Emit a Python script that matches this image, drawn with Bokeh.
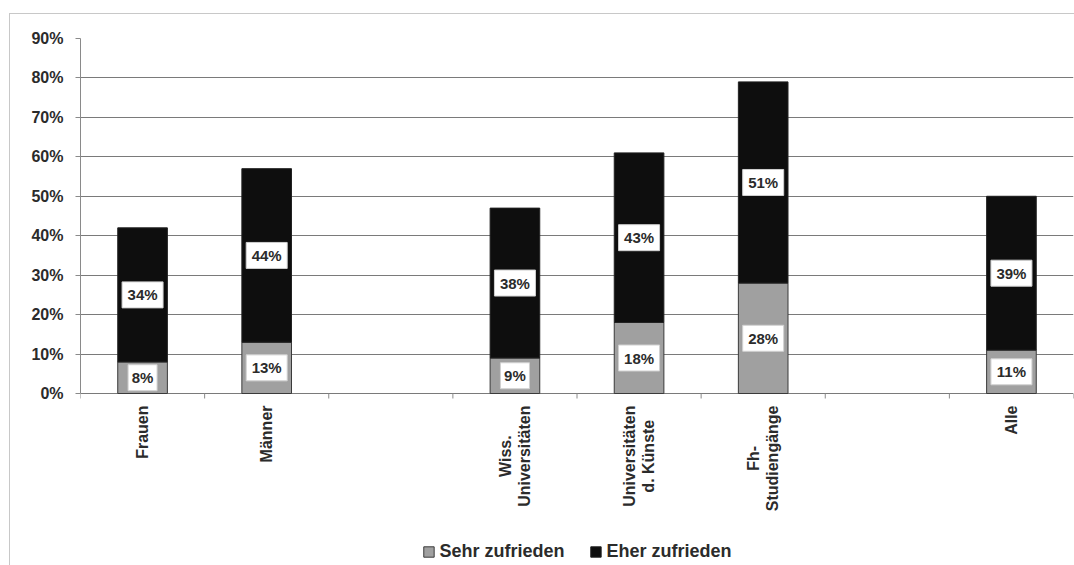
import math
from bokeh.plotting import figure
from bokeh.models import ColumnDataSource, Range1d, FixedTicker, Legend, LegendItem
from bokeh.embed import file_html
from bokeh.resources import INLINE
from bokeh.core.properties import value

# Groups of categories; an empty slot separates neighbouring groups
groups = [
    ["Frauen", "Männer"],
    ["Wiss.\nUniversitäten", "Universitäten\nd. Künste", "Fh-\nStudiengänge"],
    ["Alle"],
]
sehr_zufrieden = [8, 13, 9, 18, 28, 11]
eher_zufrieden = [34, 44, 38, 43, 51, 39]
y_ticks = [0, 10, 20, 30, 40, 50, 60, 70, 80, 90]
series_names = ["Sehr zufrieden", "Eher zufrieden"]

FONT = "Liberation Sans"
GREY = "#a0a0a0"
BLACK = "#0e0e0e"
TEXT = "#2b2b2b"
AXIS = "#8a8a8a"
LABEL_PX = 16
LINE_PITCH = 19

# layout of the drawing area (pixels)
PLOT_H = 355          # height of the 0..90 % band
BELOW_H = 172         # room under the 0 % line for category names and legend
px_per_unit = PLOT_H / y_ticks[-1]
y_min = -BELOW_H / px_per_unit

# approximate advance widths of Liberation Sans Bold (per 1000 em)
ADV = {"a": 556, "b": 611, "c": 556, "d": 611, "e": 556, "f": 333, "g": 611,
       "h": 611, "i": 278, "l": 278, "m": 889, "n": 611, "o": 611, "r": 389,
       "s": 556, "t": 333, "u": 611, "v": 556, "ä": 556, "ü": 611, "F": 611,
       "M": 833, "W": 944, "U": 722, "K": 722, "S": 667, "A": 722, " ": 278,
       ".": 278, "-": 333}


def line_len(s):
    return sum(ADV.get(ch, 600) for ch in s) * LABEL_PX / 1000


# slot centres for each category
categories, xs = [], []
slot = 0
for gi, g in enumerate(groups):
    if gi:
        slot += 1
    for c in g:
        categories.append(c)
        xs.append(slot + 0.5)
        slot += 1
n_slots = slot
boundaries = list(range(n_slots + 1))

# one row per text line of the rotated category names, lines centred on each other
name_src = dict(x=[], y=[], text=[], dx=[], dy=[])
for x, c in zip(xs, categories):
    lines = c.split("\n")
    longest = max(line_len(s) for s in lines)
    for i, s in enumerate(lines):
        name_src["x"].append(x)
        name_src["y"].append(0)
        name_src["text"].append(s)
        name_src["dx"].append((i - (len(lines) - 1) / 2) * LINE_PITCH)
        name_src["dy"].append(12 + longest / 2)

tops = [a + b for a, b in zip(sehr_zufrieden, eher_zufrieden)]
sehr_lbl = [f"{v}%" for v in sehr_zufrieden]
eher_lbl = [f"{v}%" for v in eher_zufrieden]
src = ColumnDataSource(dict(
    x=xs,
    sehr=sehr_zufrieden,
    eher=eher_zufrieden,
    top=tops,
    zero=[0] * len(xs),
    sehr_mid=[v / 2 for v in sehr_zufrieden],
    eher_mid=[a + b / 2 for a, b in zip(sehr_zufrieden, eher_zufrieden)],
    sehr_lbl=sehr_lbl,
    eher_lbl=eher_lbl,
    sehr_w=[12 * len(s) + 5 for s in sehr_lbl],
    eher_w=[12 * len(s) + 5 for s in eher_lbl],
))

p = figure(
    frame_width=993, frame_height=PLOT_H + BELOW_H,
    min_border_left=70, min_border_right=1, min_border_top=24, min_border_bottom=0,
    x_range=Range1d(0, n_slots), y_range=Range1d(y_min, y_ticks[-1]),
    output_backend="svg", toolbar_location=None,
    x_axis_type=None, y_axis_location="left",
)
p.styles = {"margin-left": "9px", "margin-top": "13px",
            "border-left": "1px solid #c8c8c8", "border-top": "1px solid #c8c8c8"}
p.outline_line_color = None
p.background_fill_color = "white"
p.border_fill_color = "white"

# y axis
p.yaxis.bounds = (0, y_ticks[-1])
p.yaxis.ticker = FixedTicker(ticks=y_ticks)
p.yaxis.major_label_overrides = {t: f"{t}%" for t in y_ticks}
p.yaxis.major_label_text_font = FONT
p.yaxis.major_label_text_font_style = "bold"
p.yaxis.major_label_text_font_size = "16px"
p.yaxis.major_label_text_color = TEXT
p.yaxis.major_label_standoff = 12
p.yaxis.axis_line_color = AXIS
p.yaxis.major_tick_line_color = AXIS
p.yaxis.major_tick_out = 5
p.yaxis.major_tick_in = 0
p.yaxis.minor_tick_line_color = None
p.ygrid.ticker = FixedTicker(ticks=y_ticks)
p.ygrid.grid_line_color = "#7a7a7a"
p.ygrid.grid_line_width = 1
p.xgrid.grid_line_color = None

# category axis: tick marks at slot boundaries, rotated names under each bar
p.segment(x0=boundaries, y0=[0] * len(boundaries), x1=boundaries,
          y1=[-5 / px_per_unit] * len(boundaries), line_color=AXIS, line_width=1)
p.text(x="x", y="y", text="text", source=ColumnDataSource(name_src),
       angle=math.pi / 2, x_offset="dx", y_offset="dy",
       text_font=value(FONT), text_font_style="bold", text_font_size=f"{LABEL_PX}px",
       text_color=TEXT, text_align="center", text_baseline="middle")

# stacked bars
r_sehr = p.vbar(x="x", bottom="zero", top="sehr", width=0.4, source=src,
                fill_color=GREY, line_color="#3a3a3a", line_width=1)
r_eher = p.vbar(x="x", bottom="sehr", top="top", width=0.4, source=src,
                fill_color=BLACK, line_color="#222222", line_width=1)

# value labels in white boxes
for ycol, tcol, wcol in (("sehr_mid", "sehr_lbl", "sehr_w"),
                         ("eher_mid", "eher_lbl", "eher_w")):
    p.rect(x="x", y=ycol, width=wcol, height=26, width_units="screen",
           height_units="screen", source=src, fill_color="white",
           line_color="#d0d0d0", line_width=1)
    p.text(x="x", y=ycol, text=tcol, source=src,
           text_font=value(FONT), text_font_style="bold", text_font_size="15px",
           text_color=TEXT, text_align="center", text_baseline="middle")

# legend centred at the bottom
legend = Legend(
    items=[LegendItem(label=series_names[0], renderers=[r_sehr]),
           LegendItem(label=series_names[1], renderers=[r_eher])],
    orientation="horizontal", location="bottom_center",
    label_text_font=FONT, label_text_font_style="bold",
    label_text_font_size="18px", label_text_color=TEXT,
    glyph_width=13, glyph_height=13, label_standoff=5, spacing=24,
    border_line_color=None, background_fill_alpha=0, margin=3, padding=2,
)
p.add_layout(legend, "center")

open("out.html", "w").write(file_html(p, INLINE))
